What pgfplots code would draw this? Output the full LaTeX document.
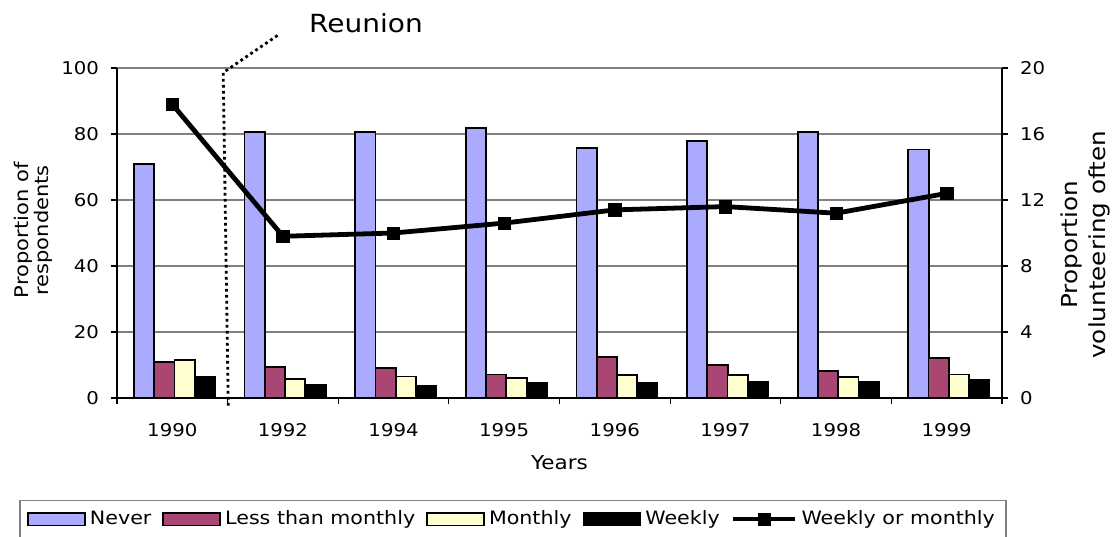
\documentclass[border=0pt]{standalone}
\usepackage{pgfplots}
\pgfplotsset{compat=1.18}
\usepackage{fontspec}
\setmainfont{DejaVu Sans}[FakeStretch=1.12]
\definecolor{cnever}{RGB}{170,170,255}
\definecolor{cltm}{RGB}{170,70,115}
\definecolor{cmon}{RGB}{255,255,208}
\definecolor{cgrid}{RGB}{128,128,128}
\pgfplotsset{
  barleg/.style={legend image code/.code={\draw[##1,line width=0.9pt] (0pt,-3.2pt) rectangle (28.5pt,3.2pt);}},
  lineleg/.style={legend image code/.code={\draw[##1, sharp plot, mark repeat=2, mark phase=2] plot coordinates {(0pt,0pt) (15.5pt,0pt) (31pt,0pt)};}},
}
\begin{document}
\begin{tikzpicture}
\path[use as bounding box] (-58.5pt,-69pt) rectangle (501.5pt,199pt);
\begin{axis}[
  scale only axis, width=442.5pt, height=165pt,
  xmin=-0.5, xmax=7.5, ymin=0, ymax=100,
  ytick={0,20,...,100},
  xtick={0,...,7},
  xticklabels={1990,1992,1994,1995,1996,1997,1998,1999},
  minor xtick={-0.5,0.5,...,7.5},
  major x tick style={draw=none},
  tick align=outside, major tick length=3pt, minor tick length=3pt,
  tick style={black, line width=0.6pt},
  axis x line*=bottom, axis y line*=left,
  axis line style={black, line width=0.7pt, -},
  ymajorgrids, grid style={cgrid, line width=0.6pt},
  ybar=0pt, bar width=0.1835,
  clip=false,
  font=\fontsize{8.8pt}{10.5pt}\selectfont,
  /pgf/number format/assume math mode=true,
  xticklabel style={anchor=center, yshift=-13pt, font=\fontsize{8.8pt}{10.5pt}\selectfont},
  yticklabel style={anchor=east, xshift=-2.5pt, font=\fontsize{8.8pt}{10.5pt}\selectfont},
  xlabel={Years},
  xlabel style={at={(axis description cs:0.5,-0.197)}, anchor=center, font=\fontsize{9.6pt}{11pt}\selectfont},
  ylabel={Proportion of\\respondents},
  ylabel style={at={(axis description cs:-0.095,0.508)}, anchor=center, align=center, font=\fontsize{9.4pt}{10pt}\selectfont},
  legend style={at={(axis description cs:0.4475,-0.3667)}, anchor=center, draw=cgrid, line width=0.7pt,
    legend columns=-1, font=\fontsize{9.2pt}{10pt}\selectfont, inner xsep=3.5pt, inner ysep=3pt,
    /tikz/every even column/.append style={column sep=3.5pt}},
  legend cell align=left,
]
\addplot[fill=cnever, draw=black, line width=0.9pt, bar shift=-0.255, barleg] coordinates {(0,71.0) (1,80.6) (2,80.7) (3,81.9) (4,75.8) (5,78.0) (6,80.6) (7,75.3)};
\addlegendentry{Never}
\addplot[fill=cltm, draw=black, line width=0.9pt, bar shift=-0.072, barleg] coordinates {(0,10.8) (1,9.5) (2,9.1) (3,7.1) (4,12.5) (5,10.1) (6,8.1) (7,12.2)};
\addlegendentry{Less than monthly}
\addplot[fill=cmon, draw=black, line width=0.9pt, bar shift=0.111, barleg] coordinates {(0,11.4) (1,5.8) (2,6.5) (3,6.1) (4,7.0) (5,6.9) (6,6.3) (7,7.1)};
\addlegendentry{Monthly}
\addplot[fill=black, draw=black, line width=0.9pt, bar shift=0.295, barleg] coordinates {(0,6.4) (1,4.1) (2,3.7) (3,4.6) (4,4.5) (5,4.9) (6,5.0) (7,5.5)};
\addlegendentry{Weekly}
\addlegendimage{black, line width=2.4pt, mark=square*, mark size=3.1pt, mark options={line width=0.3pt, solid}, lineleg}
\addlegendentry{Weekly or monthly}
\draw[black, line width=1.4pt, dash pattern=on 1.4pt off 1.6pt] (axis cs:0.506,-2.3) -- (axis cs:0.46,98.6) -- (axis cs:0.974,110.4);
\node[font=\fontsize{12.5pt}{14pt}\selectfont, anchor=center] at (axis cs:1.751,113.7) {Reunion};
\end{axis}
\begin{axis}[
  scale only axis, width=442.5pt, height=165pt,
  xmin=-0.5, xmax=7.5, ymin=0, ymax=20,
  ytick={0,4,...,20},
  axis x line=none, axis y line*=right,
  axis line style={black, line width=0.7pt, -},
  tick align=outside, major tick length=3pt,
  tick style={black, line width=0.6pt},
  /pgf/number format/assume math mode=true,
  yticklabel style={anchor=west, xshift=2.5pt, font=\fontsize{8.8pt}{10.5pt}\selectfont},
  ylabel={Proportion\\volunteering often},
  ylabel style={at={(axis description cs:1.094,0.464)}, anchor=center, align=center, font=\fontsize{11pt}{14pt}\selectfont},
]
\addplot[black, line width=2.4pt, mark=square*, mark size=3.1pt, mark options={line width=0.3pt}] coordinates {(0,17.8) (1,9.8) (2,10.0) (3,10.6) (4,11.4) (5,11.6) (6,11.2) (7,12.4)};
\end{axis}
\end{tikzpicture}
\end{document}
